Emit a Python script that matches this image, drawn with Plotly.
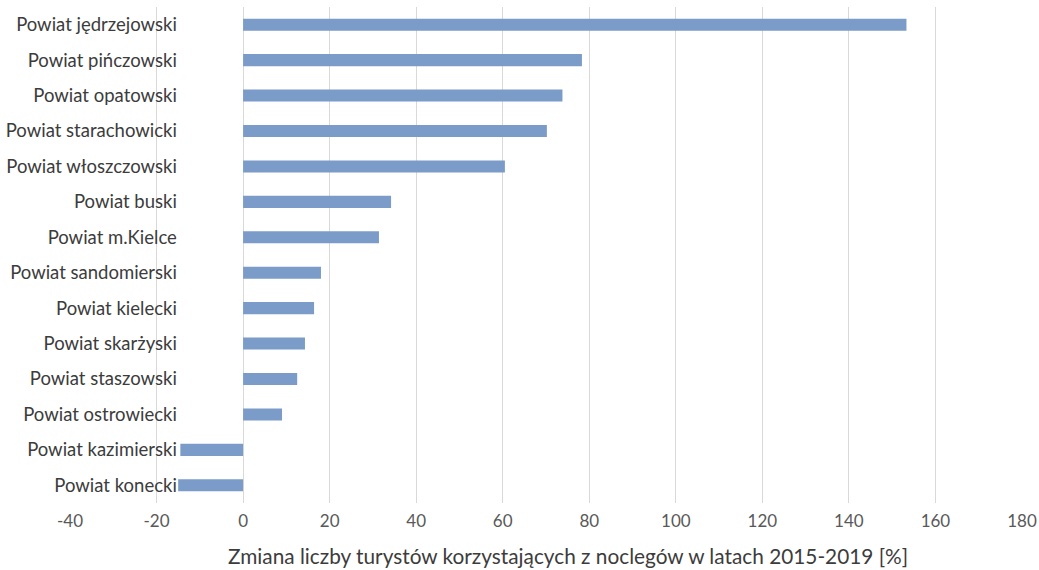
import plotly.graph_objects as go

categories = [
    "Powiat jędrzejowski", "Powiat pińczowski", "Powiat opatowski",
    "Powiat starachowicki", "Powiat włoszczowski", "Powiat buski",
    "Powiat m.Kielce", "Powiat sandomierski", "Powiat kielecki",
    "Powiat skarżyski", "Powiat staszowski", "Powiat ostrowiecki",
    "Powiat kazimierski", "Powiat konecki",
]
values = [153.3, 78.3, 73.8, 70.2, 60.5, 34.2, 31.4, 18.0, 16.4, 14.3, 12.5, 9.0, -14.5, -15.0]
x_ticks = [-40, -20, 0, 20, 40, 60, 80, 100, 120, 140, 160, 180]
x_title = "Zmiana liczby turystów korzystających z noclegów w latach 2015-2019 [%]"

xmin, xmax = -40, 180
label_at = -15.3

fig = go.Figure(go.Bar(
    x=values, y=categories, orientation="h",
    marker=dict(color="#7b9bc8", line=dict(width=0)),
    width=0.34, hoverinfo="skip",
))

fig.update_layout(
    width=1039, height=570,
    margin=dict(l=70, r=17, t=7, b=67, autoexpand=False),
    paper_bgcolor="white", plot_bgcolor="white",
    font=dict(family="Lato", size=15, color="#404040"),
    showlegend=False,
    xaxis=dict(
        range=[xmin, xmax], tickvals=x_ticks, ticktext=[str(v) for v in x_ticks],
        showgrid=True, gridcolor="#d9d9d9", gridwidth=1,
        zeroline=False, showline=False, ticks="",
        tickfont=dict(family="Lato", size=17, color="#595959"),
        domain=[0, 1], automargin=False, ticklabelstandoff=6,
    ),
    yaxis=dict(
        autorange="reversed", showgrid=False, zeroline=False, showline=False,
        ticks="", anchor="free", automargin=False,
        position=(label_at - xmin) / (xmax - xmin),
        tickfont=dict(family="Lato", size=18.5, color="#3c3c3c"),
    ),
    annotations=[dict(
        text=x_title, xref="paper", yref="paper", x=0.523, y=0,
        yshift=-52, xanchor="center", yanchor="middle", showarrow=False,
        font=dict(family="Lato", size=20.8, color="#3c3c3c"),
    )],
)

fig.write_html(
    "out.html",
    config={"displayModeBar": False},
    post_script="document.body.style.margin='0';document.documentElement.style.overflow='hidden';",
)
